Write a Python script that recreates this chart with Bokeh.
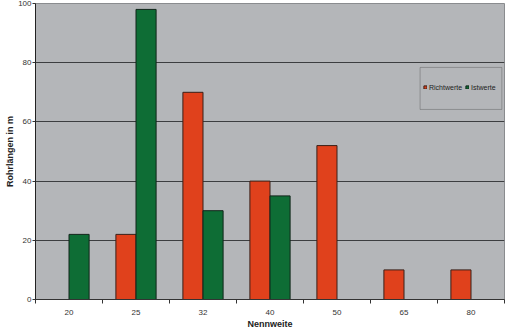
from bokeh.plotting import figure
from bokeh.models import ColumnDataSource, FixedTicker, Legend, LegendItem, BoxAnnotation, Range1d
from bokeh.transform import dodge
from bokeh.embed import file_html
from bokeh.resources import INLINE

categories = ["20", "25", "32", "40", "50", "65", "80"]
richtwerte = [0, 22, 70, 40, 52, 10, 10]
istwerte = [22, 98, 30, 35, 0, 0, 0]
y_ticks = [0, 20, 40, 60, 80, 100]

xpos = [i + 0.5 for i in range(len(categories))]
src = ColumnDataSource(dict(x=xpos, r=richtwerte, i=istwerte))

FONT = "Liberation Sans"
p = figure(width=506, height=331, output_backend="svg", toolbar_location=None,
           x_range=Range1d(0, len(categories)), y_range=Range1d(0, 100),
           min_border_left=35, min_border_right=2, min_border_top=3, min_border_bottom=32)
p.background_fill_color = "#b4b6b9"
p.border_fill_color = "white"
p.outline_line_color = "#8a8c8f"

r1 = p.vbar(x=dodge("x", -0.15, range=p.x_range), top="r", width=0.3, source=src,
            fill_color="#e0411c", line_color="#3a2018", line_width=1)
r2 = p.vbar(x=dodge("x", 0.15, range=p.x_range), top="i", width=0.3, source=src,
            fill_color="#0e6d35", line_color="#10251a", line_width=1)

# x axis: labels at category centres, ticks at category boundaries
p.xaxis.ticker = FixedTicker(ticks=xpos, minor_ticks=list(range(len(categories) + 1)))
p.xaxis.major_label_overrides = {x: c for x, c in zip(xpos, categories)}
p.xaxis.major_tick_line_color = None
p.xaxis.minor_tick_line_color = "#333333"
p.xaxis.minor_tick_in = 0
p.xaxis.minor_tick_out = 4
p.xaxis.axis_line_color = "#333333"
p.xaxis.axis_label = "Nennweite"

p.yaxis.ticker = FixedTicker(ticks=y_ticks)
p.yaxis.minor_tick_line_color = None
p.yaxis.major_tick_in = 0
p.yaxis.major_tick_out = 3
p.yaxis.major_tick_line_color = "#333333"
p.yaxis.axis_line_color = "#222222"
p.yaxis.axis_label = "Rohrlängen in m"

for ax in (p.xaxis, p.yaxis):
    ax.major_label_text_font = FONT
    ax.major_label_text_font_size = "8px"
    ax.major_label_text_color = "#333333"
    ax.axis_label_text_font = FONT
    ax.axis_label_text_font_size = "9px"
    ax.axis_label_text_font_style = "bold"
    ax.axis_label_text_color = "#222222"

p.xaxis.major_label_standoff = 4
p.xaxis.axis_label_standoff = 1
p.yaxis.major_label_standoff = 1
p.yaxis.axis_label_standoff = 0

p.xgrid.grid_line_color = None
p.ygrid.ticker = FixedTicker(ticks=[20, 40, 60, 80])
p.ygrid.grid_line_color = "#3c3e40"
p.ygrid.grid_line_width = 1

box = BoxAnnotation(left=5.74, right=6.96, bottom=64.2, top=78.4,
                    fill_alpha=0, line_color="#333333", line_width=1)
p.add_layout(box)

legend = Legend(items=[LegendItem(label="Richtwerte", renderers=[r1]),
                       LegendItem(label="Istwerte", renderers=[r2])],
                orientation="horizontal", location=(388, 207),
                glyph_width=4, glyph_height=4, label_standoff=2, spacing=3,
                padding=0, margin=0, label_height=10,
                label_text_font=FONT, label_text_font_size="7px",
                label_text_color="#222222",
                border_line_alpha=0, background_fill_alpha=0)
p.add_layout(legend)

open("out.html", "w").write(file_html(p, INLINE))
